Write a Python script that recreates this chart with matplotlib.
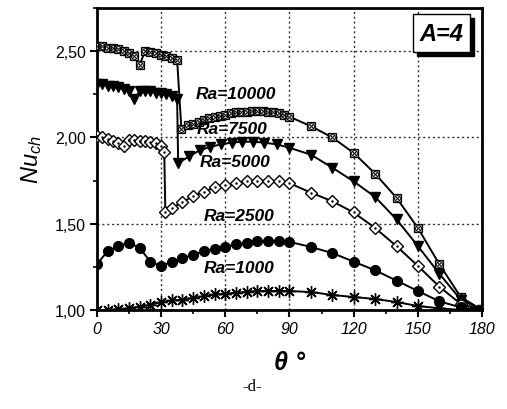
import matplotlib
matplotlib.use("Agg")
import matplotlib.pyplot as plt
from matplotlib.patches import Rectangle
import numpy as np

plt.rcParams['font.family'] = ['Liberation Sans', 'DejaVu Sans']
plt.rcParams['mathtext.fontset'] = 'custom'
plt.rcParams['mathtext.it'] = 'Liberation Sans:italic'
plt.rcParams['mathtext.rm'] = 'Liberation Sans'

# ---- data ----
x_10000 = [0, 2.5, 5, 7.5, 10, 12.5, 15, 17.5, 20, 22.5, 25, 27.5, 30, 32.5, 35, 37.5,
           39.5, 42.5, 45, 47.5, 50, 52.5, 55, 57.5, 60, 62.5, 65, 67.5, 70, 72.5, 75,
           77.5, 80, 82.5, 85, 87.5, 90, 100, 110, 120, 130, 140, 150, 160, 170, 180]
y_10000 = [2.53, 2.53, 2.52, 2.52, 2.51, 2.50, 2.49, 2.47, 2.42, 2.50, 2.495, 2.49, 2.48, 2.47, 2.46, 2.45,
           2.05, 2.07, 2.08, 2.09, 2.10, 2.11, 2.12, 2.125, 2.13, 2.14, 2.145, 2.15, 2.15, 2.155, 2.155,
           2.155, 2.15, 2.145, 2.14, 2.13, 2.12, 2.065, 2.0, 1.91, 1.79, 1.65, 1.475, 1.265, 1.075, 1.0]

x_7500 = [0, 2.5, 5, 7.5, 10, 12.5, 15, 17.5, 20, 22.5, 25, 27.5, 30, 32.5, 35, 37.5,
          38, 43, 48, 53, 58, 63, 68, 73, 78, 84, 90, 100, 110, 120, 130, 140, 150, 160, 170, 180]
y_7500 = [2.31, 2.31, 2.30, 2.30, 2.29, 2.28, 2.27, 2.22, 2.27, 2.27, 2.27, 2.26, 2.26, 2.25, 2.24, 2.22,
          1.85, 1.89, 1.925, 1.945, 1.96, 1.97, 1.975, 1.975, 1.97, 1.96, 1.94,
          1.90, 1.825, 1.745, 1.655, 1.525, 1.37, 1.21, 1.06, 1.0]

x_5000 = [0, 2.5, 5, 7.5, 10, 12.5, 15, 17.5, 20, 22.5, 25, 27.5, 30, 31.5,
          32, 35, 40, 45, 50, 55, 60, 65, 70, 75, 80, 85, 90,
          100, 110, 120, 130, 140, 150, 160, 170, 180]
y_5000 = [2.01, 2.00, 1.99, 1.98, 1.97, 1.95, 1.985, 1.985, 1.98, 1.98, 1.975, 1.965, 1.95, 1.915,
          1.565, 1.59, 1.625, 1.66, 1.685, 1.71, 1.725, 1.735, 1.745, 1.75, 1.75, 1.745, 1.735,
          1.68, 1.63, 1.565, 1.475, 1.37, 1.255, 1.135, 1.035, 1.0]

x_2500 = [0, 5, 10, 15, 20, 25, 30, 35, 40, 45, 50, 55, 60, 65, 70, 75, 80, 85, 90,
          100, 110, 120, 130, 140, 150, 160, 170, 180]
y_2500 = [1.265, 1.34, 1.37, 1.39, 1.36, 1.28, 1.255, 1.28, 1.30, 1.32, 1.34, 1.355, 1.365, 1.38,
          1.39, 1.40, 1.40, 1.40, 1.395, 1.365, 1.33, 1.28, 1.23, 1.17, 1.11, 1.05, 1.015, 1.0]

x_1000 = [0, 5, 10, 15, 20, 25, 30, 35, 40, 45, 50, 55, 60, 65, 70, 75, 80, 85, 90,
          100, 110, 120, 130, 140, 150, 160, 170, 180]
y_1000 = [1.0, 1.0, 1.005, 1.01, 1.02, 1.03, 1.045, 1.055, 1.06, 1.07, 1.08, 1.09, 1.095, 1.10,
          1.105, 1.11, 1.11, 1.11, 1.11, 1.104, 1.087, 1.075, 1.064, 1.046, 1.023, 1.01, 1.0, 1.0]

labels = ['Ra=10000', 'Ra=7500', 'Ra=5000', 'Ra=2500', 'Ra=1000']
label_x = [46, 46.5, 48, 50, 50]
label_y = [2.255, 2.05, 1.86, 1.55, 1.245]

xticks = [0, 30, 60, 90, 120, 150, 180]
yticks = [1.0, 1.5, 2.0, 2.5]
ytick_labels = ['1,00', '1,50', '2,00', '2,50']

# ---- figure ----
fig = plt.figure(figsize=(5.07, 4.10), dpi=100)
ax = fig.add_axes([0.191, 0.2415, 0.760, 0.7365])

lw = 1.4
# Ra=10000: square with crossed circle
ax.plot(x_10000, y_10000, color='black', lw=lw, marker='s', ms=6, mfc='white', mec='black', mew=0.9, zorder=3)
ax.plot(x_10000, y_10000, ls='none', marker='o', ms=4.2, mfc='none', mec='black', mew=0.7, zorder=4)
ax.plot(x_10000, y_10000, ls='none', marker='x', ms=4.2, mec='black', mew=0.7, zorder=4)
# Ra=7500: filled down triangle
ax.plot(x_7500, y_7500, color='black', lw=lw, marker='v', ms=7.5, mfc='black', mec='black', zorder=3)
# Ra=5000: open diamond with dot
ax.plot(x_5000, y_5000, color='black', lw=lw, marker='D', ms=6, mfc='white', mec='black', mew=1.0, zorder=3)
ax.plot(x_5000, y_5000, ls='none', marker='.', ms=1.5, color='black', zorder=4)
# Ra=2500: filled circle
ax.plot(x_2500, y_2500, color='black', lw=lw, marker='o', ms=7, mfc='black', mec='black', zorder=3)
# Ra=1000: asterisk
ax.plot(x_1000, y_1000, color='black', lw=lw, marker=(8, 2, 0), ms=9, mec='black', mew=1.0, zorder=3)

for t, xx, yy in zip(labels, label_x, label_y):
    ax.text(xx, yy, t, fontsize=12.5, fontweight='bold', fontstyle='italic', ha='left', va='center', zorder=5)

ax.set_xlim(0, 180)
ax.set_ylim(1.0, 2.75)
ax.set_xticks(xticks)
ax.set_xticklabels([str(v) for v in xticks], fontstyle='italic', fontsize=11.5)
ax.set_xticks(np.arange(15, 180, 30), minor=True)
ax.set_yticks(yticks)
ax.set_yticklabels(ytick_labels, fontsize=11.5)
ax.set_yticks([1.25, 1.75, 2.25, 2.75], minor=True)
ax.tick_params(axis='both', which='major', direction='out', length=5, width=1.5, pad=3)
ax.tick_params(axis='both', which='minor', direction='out', length=3, width=1.2)
for s in ax.spines.values():
    s.set_linewidth(2)

for xv in [30, 60, 90, 120, 150]:
    ax.axvline(xv, color='#333333', lw=1.0, ls=(0, (1.5, 2)), zorder=1)
for yv in [1.5, 2.0, 2.5]:
    ax.axhline(yv, color='#333333', lw=1.0, ls=(0, (1.5, 2)), zorder=1)

ax.set_ylabel(r'$Nu_{ch}$', fontsize=17, labelpad=8)
ax.set_xlabel('θ °', fontsize=18, fontweight='bold', fontstyle='italic', labelpad=10)

# A=4 box with shadow
ax.add_patch(Rectangle((0.831, 0.841), 0.148, 0.126, transform=ax.transAxes, facecolor='black',
                       edgecolor='black', zorder=6, clip_on=False))
ax.add_patch(Rectangle((0.821, 0.854), 0.148, 0.126, transform=ax.transAxes, facecolor='white',
                       edgecolor='black', lw=1.0, zorder=7, clip_on=False))
ax.text(0.895, 0.917, 'A=4', transform=ax.transAxes, fontsize=17, fontweight='bold',
        fontstyle='italic', ha='center', va='center', zorder=8)

fig.text(0.497, 0.056, '-d-', fontsize=12, family='Liberation Serif', ha='center', va='center')

fig.savefig('out.png', dpi=100)
